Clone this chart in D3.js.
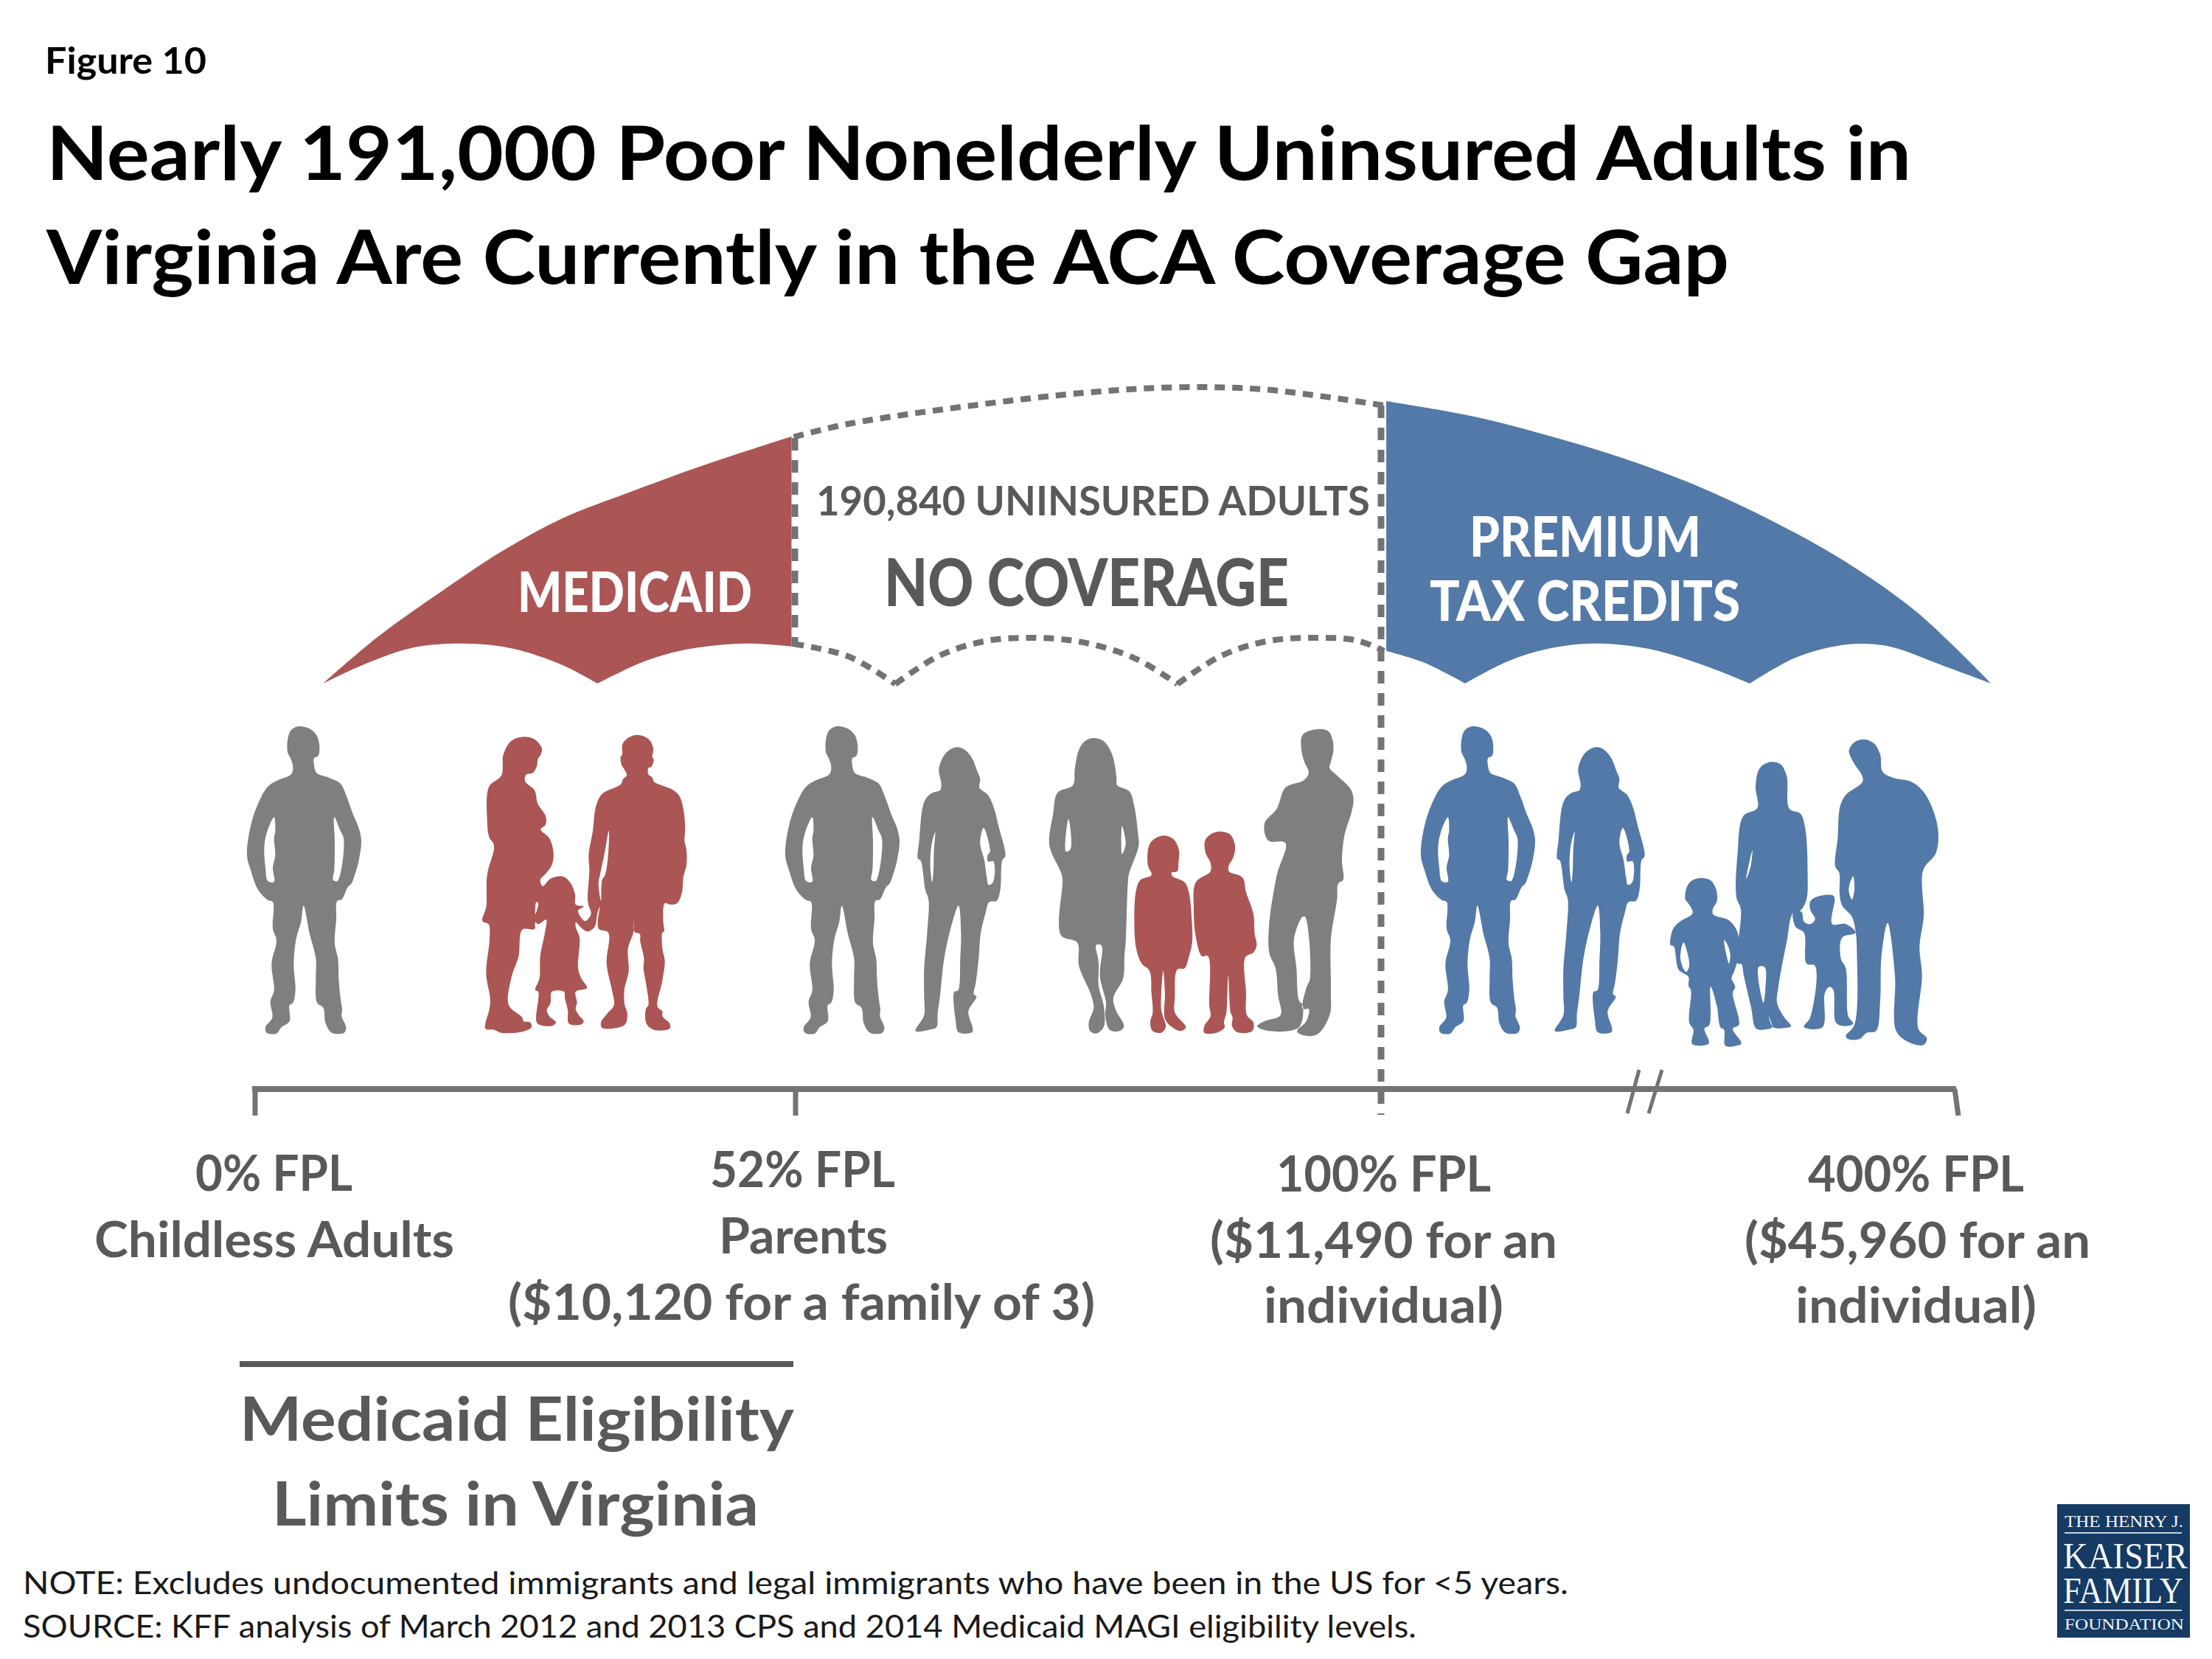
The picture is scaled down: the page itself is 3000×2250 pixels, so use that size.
<!DOCTYPE html>
<html>
<head>
<meta charset="utf-8">
<style>
  body { margin: 0; background: #fff; }
  text { font-family: Lato, "Open Sans", sans-serif; }
</style>
<script src="https://d3js.org/d3.v7.min.js"></script>
</head>
<body>
<div id="chart"></div>
<script>
var RED = "#ab5654", BLUE = "#5279a8", GRAY = "#7f7f7f", LINE = "#737373", TEXT = "#595959";

var svg = d3.select("#chart").append("svg")
  .attr("width", 3000)
  .attr("height", 2250)
  .attr("viewBox", "0 0 3000 2250");

var ux = d3.scaleLinear().domain([0, 1568]).range([400, 2800]);
var uy = d3.scaleLinear().domain([0, 1380]).range([500, 960]);
var ulineSmooth = d3.line().x(d => ux(d[0])).y(d => uy(d[1])).curve(d3.curveCatmullRom.alpha(0.5));

function joinSegs(segs) {
  return segs.map((s, i) => {
    var p = ulineSmooth(s);
    return i == 0 ? p : p.replace(/^M/, "L");
  }).join("");
}

var umbrella = {
  redTop: [[25,1281],[74,1089],[129,909],[183,744],[237,609],[294,507],[364,390],[440,276]],
  redBottom: [
    [[440,1130],[400,1118],[350,1140],[310,1190],[268,1281]],
    [[268,1281],[237,1206],[194,1140],[155,1119],[106,1134],[63,1200],[25,1281]]
  ],
  blueTop: [[967,132],[1045,195],[1111,273],[1176,363],[1241,474],[1307,615],[1372,780],[1437,990],[1503,1281]],
  blueBottom: [
    [[1503,1281],[1459,1206],[1416,1134],[1390,1119],[1363,1131],[1328,1179],[1289,1281]],
    [[1289,1281],[1250,1210],[1200,1140],[1150,1118],[1110,1140],[1075,1190],[1037,1281]],
    [[1037,1281],[1000,1195],[967,1148]]
  ],
  dashTop: [[442,278],[490,225],[600,150],[700,98],[780,76],[860,85],[965,150]],
  dashBottom: [
    [[442,1120],[490,1170],[532,1283]],
    [[532,1283],[570,1170],[610,1110],[655,1095],[700,1115],[745,1180],[782,1283]],
    [[782,1283],[820,1170],[860,1110],[900,1095],[940,1105],[965,1148]]
  ]
};

svg.append("path")
  .attr("d", joinSegs([umbrella.redTop].concat(umbrella.redBottom)) + "Z")
  .attr("fill", RED);
svg.append("path")
  .attr("d", joinSegs([umbrella.blueTop].concat(umbrella.blueBottom)) + "Z")
  .attr("fill", BLUE);

[umbrella.dashTop].concat(umbrella.dashBottom).forEach(function(seg) {
  svg.append("path")
    .attr("d", ulineSmooth(seg))
    .attr("fill", "none")
    .attr("stroke", LINE)
    .attr("stroke-width", 8)
    .attr("stroke-dasharray", "14 10");
});

// Silhouettes: each one is traced in its own crop at 3x, first list is the body, the rest are gaps
var shapes = {
  man: {ox: 320, oy: 980, parts: [
    [[255,15],[300,25],[330,55],[340,100],[335,135],[318,145],[318,175],[328,205],[380,225],[425,248],[450,300],[475,370],[500,430],[510,480],[500,560],[480,630],[470,655],[455,670],[430,720],[412,725],[408,800],[402,900],[415,960],[418,1040],[425,1120],[432,1170],[430,1195],[448,1240],[440,1262],[390,1262],[365,1225],[355,1160],[330,1140],[325,1040],[325,960],[300,860],[275,745],[265,810],[245,880],[235,980],[242,1090],[232,1140],[218,1150],[218,1215],[185,1240],[165,1265],[125,1262],[120,1240],[148,1200],[140,1135],[155,1090],[145,980],[165,885],[150,840],[150,730],[130,722],[90,680],[60,600],[45,540],[60,420],[90,330],[130,260],[170,235],[225,210],[232,180],[222,145],[210,120],[212,60],[225,30]],
    [[155,385],[125,450],[115,510],[120,590],[130,645],[155,648],[150,590],[160,540],[155,470],[160,440]],
    [[400,385],[402,480],[400,600],[395,640],[412,645],[430,590],[438,470],[425,440]]
  ]},
  woman: {ox: 1240, oy: 1000, parts: [
    [[175,40],[205,50],[235,85],[255,135],[268,170],[265,205],[300,235],[325,290],[345,370],[368,455],[370,485],[358,500],[350,620],[335,665],[305,670],[290,715],[270,800],[262,900],[250,1000],[242,1045],[253,1055],[220,1115],[238,1185],[235,1200],[180,1200],[168,1150],[163,1035],[178,1030],[187,900],[190,790],[180,685],[150,770],[125,880],[115,950],[105,1050],[95,1125],[90,1180],[60,1190],[5,1195],[40,1130],[40,1055],[40,940],[52,800],[58,660],[45,620],[25,500],[15,495],[20,420],[35,280],[50,245],[75,225],[105,215],[110,190],[100,130],[120,75],[145,50]],
    [[85,385],[70,440],[65,520],[73,590],[78,540],[80,460]],
    [[282,368],[268,430],[285,500],[295,570],[302,600],[320,590],[322,505],[300,505],[298,480],[308,465]]
  ]},
  couple: {ox: 650, oy: 980, parts: [
    [[180,58],[225,68],[255,105],[250,130],[238,150],[235,175],[218,205],[190,212],[187,240],[225,275],[238,330],[270,380],[270,415],[250,435],[285,470],[302,530],[295,580],[270,615],[248,640],[258,665],[290,635],[340,626],[370,650],[390,700],[392,740],[425,748],[402,765],[430,808],[450,790],[455,775],[442,730],[448,600],[445,540],[462,440],[475,340],[500,290],[575,252],[585,230],[600,215],[590,190],[580,175],[575,140],[582,130],[582,90],[605,62],[645,50],[690,68],[708,105],[704,140],[710,150],[700,180],[688,185],[688,210],[705,225],[710,240],[790,275],[815,300],[830,350],[838,430],[835,480],[843,520],[843,580],[830,630],[825,690],[805,735],[775,740],[755,735],[748,800],[752,850],[745,855],[745,920],[755,970],[745,1050],[725,1155],[745,1175],[745,1195],[775,1225],[775,1245],[710,1250],[680,1225],[678,1165],[688,1150],[680,1070],[668,1000],[670,960],[655,890],[653,860],[632,852],[627,800],[628,850],[605,920],[608,1010],[590,1090],[592,1150],[602,1180],[596,1225],[570,1240],[500,1242],[495,1220],[520,1185],[548,1150],[540,1090],[518,980],[525,855],[485,838],[490,750],[480,780],[470,830],[440,850],[415,835],[393,812],[392,830],[408,875],[402,1000],[415,1040],[438,1080],[392,1095],[398,1140],[392,1165],[405,1190],[425,1215],[415,1228],[365,1225],[360,1170],[348,1120],[345,1095],[295,1095],[290,1140],[275,1170],[285,1195],[312,1220],[300,1232],[270,1235],[235,1222],[240,1095],[228,1088],[245,1040],[248,950],[268,850],[272,802],[240,820],[228,812],[225,840],[175,842],[160,950],[130,1040],[120,1150],[175,1200],[180,1215],[208,1220],[212,1240],[175,1258],[90,1262],[60,1250],[25,1245],[40,1170],[45,1130],[28,1020],[42,880],[38,820],[13,808],[28,750],[32,620],[60,500],[40,465],[32,400],[40,260],[90,215],[98,130],[130,75]],
    [[527,440],[510,530],[490,625],[485,650],[495,725],[500,640],[512,620],[525,530]],
    [[232,730],[228,780],[240,735]]
  ]},
  dressWoman: {ox: 1415, oy: 980, parts: [
    [[205,63],[245,75],[280,130],[298,225],[300,255],[350,280],[370,340],[385,450],[388,500],[350,610],[345,640],[335,895],[330,950],[325,1040],[285,1120],[295,1170],[328,1235],[310,1255],[270,1250],[252,1190],[255,1140],[230,1030],[240,925],[235,905],[215,905],[225,975],[225,1070],[247,1160],[245,1240],[215,1265],[190,1255],[185,1220],[205,1160],[195,1110],[145,990],[138,895],[72,865],[78,640],[72,610],[25,500],[40,370],[58,285],[120,255],[128,190],[145,110],[170,75]],
    [[102,392],[92,525],[110,515],[112,450]],
    [[320,420],[320,535],[335,495]]
  ]},
  girl: {ox: 1415, oy: 980, parts: [
    [[490,460],[530,475],[552,520],[550,570],[545,605],[522,610],[525,625],[575,650],[592,690],[605,820],[605,900],[590,960],[575,1000],[545,1005],[535,1120],[535,1180],[580,1240],[560,1255],[525,1240],[495,1205],[495,1100],[488,1010],[480,1100],[480,1170],[498,1240],[480,1262],[445,1255],[435,1220],[445,1180],[440,1100],[432,1010],[400,980],[378,920],[370,800],[378,680],[395,640],[440,620],[425,580],[430,500],[450,475]]
  ]},
  boy: {ox: 1415, oy: 980, parts: [
    [[715,443],[760,455],[778,490],[780,520],[770,555],[755,580],[755,605],[810,630],[825,690],[855,780],[860,860],[868,905],[855,935],[822,955],[825,1100],[828,1190],[855,1220],[850,1255],[790,1260],[768,1235],[770,1200],[762,1180],[752,1030],[745,1180],[735,1220],[738,1240],[705,1262],[655,1262],[655,1235],[680,1195],[675,1150],[670,950],[645,950],[620,870],[612,760],[620,650],[680,605],[680,570],[660,530],[658,480],[680,455]]
  ]},
  armsCrossed: {ox: 1415, oy: 980, parts: [
    [[1115,27],[1160,35],[1178,75],[1180,115],[1170,160],[1165,185],[1195,215],[1250,270],[1262,310],[1255,360],[1225,460],[1215,560],[1220,640],[1200,655],[1195,720],[1170,880],[1170,1090],[1165,1190],[1112,1270],[1050,1270],[1032,1255],[1070,1215],[1080,1165],[1055,1165],[1070,1080],[1085,1040],[1065,790],[1055,790],[1020,880],[1030,1000],[1040,1130],[1055,1150],[1040,1240],[920,1255],[870,1235],[900,1215],[965,1190],[955,1110],[945,1000],[920,940],[918,830],[950,620],[985,490],[915,480],[900,410],[950,350],[985,265],[1060,235],[1080,205],[1062,160],[1050,110],[1055,50]]
  ]},
  son: {ox: 2255, oy: 990, parts: [
    [[155,602],[195,612],[218,650],[220,700],[205,725],[205,750],[270,775],[305,825],[308,920],[290,985],[280,1010],[295,1045],[285,1070],[310,1200],[285,1215],[320,1275],[300,1285],[255,1285],[250,1220],[235,1210],[220,1120],[195,1045],[190,1200],[170,1215],[188,1275],[120,1278],[125,1220],[108,1190],[115,1060],[105,1040],[105,1005],[65,975],[45,880],[32,875],[42,810],[70,780],[122,745],[100,700],[92,690],[98,640],[120,612]],
    [[85,865],[72,930],[95,985],[108,960],[100,905]],
    [[250,855],[270,950],[275,915],[262,870]]
  ]},
  mom: {ox: 2255, oy: 990, parts: [
    [[440,130],[480,140],[505,190],[515,320],[560,340],[580,400],[590,600],[585,690],[560,735],[530,745],[505,860],[485,960],[470,1050],[465,1110],[495,1170],[522,1205],[500,1212],[450,1210],[430,1160],[445,1210],[420,1218],[380,1215],[360,1130],[330,1000],[320,952],[305,950],[318,730],[300,680],[305,500],[328,350],[385,318],[378,230],[395,155]],
    [[390,965],[410,1110],[418,1050],[415,965]],
    [[365,490],[352,540],[340,605],[358,555]]
  ]},
  toddler: {ox: 2255, oy: 990, parts: [
    [[640,675],[695,675],[700,700],[695,720],[690,790],[745,790],[785,825],[730,845],[725,930],[745,970],[755,1165],[775,1195],[740,1205],[705,1190],[695,1060],[680,1045],[660,1070],[650,1210],[575,1208],[600,1170],[620,960],[585,950],[575,825],[540,800],[532,740],[565,740],[575,780],[600,790],[620,770],[600,730],[602,695]]
  ]},
  bigMan: {ox: 2255, oy: 990, parts: [
    [[820,38],[860,55],[885,100],[895,170],[940,195],[1010,210],[1060,250],[1105,340],[1122,430],[1110,505],[1060,570],[1062,760],[1045,880],[1055,1000],[1040,1215],[1075,1255],[1060,1282],[1000,1270],[950,1225],[945,1000],[915,785],[890,920],[885,1100],[868,1225],[830,1232],[800,1258],[755,1258],[745,1245],[780,1200],[790,900],[785,820],[770,760],[730,715],[720,670],[718,580],[702,555],[712,440],[722,310],[745,265],[815,205],[775,130],[758,85],[780,50]],
    [[775,595],[757,650],[770,690],[780,650]]
  ]}
};

var people = [
  {shape: "man", dx: 0, color: GRAY},
  {shape: "couple", dx: 0, color: RED},
  {shape: "man", dx: 730, color: GRAY},
  {shape: "woman", dx: 0, color: GRAY},
  {shape: "dressWoman", dx: 0, color: GRAY},
  {shape: "girl", dx: 0, color: RED},
  {shape: "boy", dx: 0, color: RED},
  {shape: "armsCrossed", dx: 0, color: GRAY},
  {shape: "man", dx: 1592, color: BLUE},
  {shape: "woman", dx: 867, color: BLUE},
  {shape: "son", dx: 0, color: BLUE},
  {shape: "mom", dx: 0, color: BLUE},
  {shape: "toddler", dx: 0, color: BLUE},
  {shape: "bigMan", dx: 0, color: BLUE}
];

people.forEach(function(p) {
  var s = shapes[p.shape];
  var fx = d3.scaleLinear().domain([0, 3]).range([s.ox + p.dx, s.ox + p.dx + 1]);
  var fy = d3.scaleLinear().domain([0, 3]).range([s.oy, s.oy + 1]);
  var outline = d3.line()
    .x(d => fx(d[0]))
    .y(d => fy(d[1]))
    .curve(d3.curveCatmullRomClosed.alpha(0.5));
  svg.append("path")
    .attr("d", s.parts.map(outline).join(""))
    .attr("fill", p.color)
    .attr("fill-rule", "evenodd");
});

// Vertical dashed dividers
[{x: 1078, y1: 594, y2: 877}, {x: 1873, y1: 550, y2: 1512}].forEach(function(d) {
  svg.append("line")
    .attr("x1", d.x).attr("x2", d.x)
    .attr("y1", d.y1).attr("y2", d.y2)
    .attr("stroke", LINE)
    .attr("stroke-width", 9)
    .attr("stroke-dasharray", "17 13");
});

// FPL axis, the position of each tick is a page position because the axis is broken
var axisX = d3.scaleLinear().domain([0, 3000]).range([0, 3000]);
svg.append("line")
  .attr("x1", axisX(342)).attr("x2", axisX(2653))
  .attr("y1", 1477).attr("y2", 1477)
  .attr("stroke", LINE).attr("stroke-width", 8);
[[346, 346], [1079, 1079], [2651, 2656]].forEach(function(t) {
  svg.append("line")
    .attr("x1", axisX(t[0])).attr("x2", axisX(t[1]))
    .attr("y1", 1477).attr("y2", 1513)
    .attr("stroke", LINE).attr("stroke-width", 7);
});
[[2223, 2207], [2254, 2236]].forEach(function(t) {
  svg.append("line")
    .attr("x1", axisX(t[0])).attr("x2", axisX(t[1]))
    .attr("y1", 1451).attr("y2", 1510)
    .attr("stroke", LINE).attr("stroke-width", 5);
});

svg.append("line")
  .attr("x1", 325).attr("x2", 1076)
  .attr("y1", 1850).attr("y2", 1850)
  .attr("stroke", TEXT).attr("stroke-width", 8);

// Text: x1, x2 hold the measured width of each line
var labels = [
  {t: "Figure 10", x1: 61, x2: 280, y: 100, size: 50, w: 700, fill: "#000"},
  {t: "Nearly 191,000 Poor Nonelderly Uninsured Adults in", x1: 63, x2: 2592, y: 244, size: 102, w: 700, fill: "#000"},
  {t: "Virginia Are Currently in the ACA Coverage Gap", x1: 63, x2: 2345, y: 385, size: 102, w: 700, fill: "#000"},
  {t: "190,840 UNINSURED ADULTS", x1: 1107, x2: 1858, y: 699, size: 56, w: 700, fill: TEXT},
  {t: "NO COVERAGE", x1: 1199, x2: 1748, y: 822, size: 90, w: 900, fill: TEXT},
  {t: "MEDICAID", x1: 702, x2: 1020, y: 830, size: 76, w: 900, fill: "#fff"},
  {t: "PREMIUM", x1: 1993, x2: 2307, y: 755, size: 76, w: 900, fill: "#fff"},
  {t: "TAX CREDITS", x1: 1939, x2: 2360, y: 842, size: 76, w: 900, fill: "#fff"},
  {t: "0% FPL", x1: 265, x2: 478, y: 1615, size: 67, w: 700, fill: TEXT},
  {t: "Childless Adults", x1: 128, x2: 616, y: 1705, size: 67, w: 700, fill: TEXT},
  {t: "52% FPL", x1: 963, x2: 1214, y: 1610, size: 67, w: 700, fill: TEXT},
  {t: "Parents", x1: 975, x2: 1204, y: 1700, size: 67, w: 700, fill: TEXT},
  {t: "($10,120 for a family of 3)", x1: 689, x2: 1485, y: 1790, size: 67, w: 700, fill: TEXT},
  {t: "100% FPL", x1: 1731, x2: 2022, y: 1616, size: 67, w: 700, fill: TEXT},
  {t: "($11,490 for an", x1: 1641, x2: 2112, y: 1706, size: 67, w: 700, fill: TEXT},
  {t: "individual)", x1: 1714, x2: 2039, y: 1794, size: 67, w: 700, fill: TEXT},
  {t: "400% FPL", x1: 2452, x2: 2745, y: 1616, size: 67, w: 700, fill: TEXT},
  {t: "($45,960 for an", x1: 2366, x2: 2835, y: 1706, size: 67, w: 700, fill: TEXT},
  {t: "individual)", x1: 2435, x2: 2762, y: 1794, size: 67, w: 700, fill: TEXT},
  {t: "Medicaid Eligibility", x1: 325, x2: 1077, y: 1954, size: 83, w: 700, fill: TEXT},
  {t: "Limits in Virginia", x1: 369, x2: 1029, y: 2069, size: 83, w: 700, fill: TEXT},
  {t: "NOTE: Excludes undocumented immigrants and legal immigrants who have been in the US for <5 years.", x1: 31, x2: 2127, y: 2162, size: 42, w: 400, fill: "#1a1a1a"},
  {t: "SOURCE: KFF analysis of March 2012 and 2013 CPS and 2014 Medicaid MAGI eligibility levels.", x1: 31, x2: 1921, y: 2221, size: 42, w: 400, fill: "#1a1a1a"}
];

svg.selectAll("text.label")
  .data(labels)
  .enter().append("text")
  .attr("class", "label")
  .attr("x", d => d.x1)
  .attr("y", d => d.y)
  .attr("font-size", d => d.size)
  .attr("font-weight", d => d.w)
  .attr("fill", d => d.fill)
  .attr("textLength", d => d.x2 - d.x1)
  .attr("lengthAdjust", "spacingAndGlyphs")
  .text(d => d.t);

// Logo
svg.append("rect")
  .attr("x", 2790).attr("y", 2040)
  .attr("width", 180).attr("height", 181)
  .attr("fill", "#153a63");
[
  {t: "THE HENRY J.", x1: 2800, x2: 2961, y: 2071, size: 23},
  {t: "KAISER", x1: 2798, x2: 2967, y: 2127, size: 50},
  {t: "FAMILY", x1: 2798, x2: 2961, y: 2174, size: 50},
  {t: "FOUNDATION", x1: 2800, x2: 2962, y: 2210, size: 22}
].forEach(function(d) {
  svg.append("text")
    .attr("x", d.x1).attr("y", d.y)
    .attr("font-size", d.size)
    .style("font-family", "'Liberation Serif', serif")
    .attr("fill", "#f2f5f9")
    .attr("textLength", d.x2 - d.x1)
    .attr("lengthAdjust", "spacingAndGlyphs")
    .text(d.t);
});
[2079, 2184].forEach(function(y) {
  svg.append("line")
    .attr("x1", 2800).attr("x2", 2959)
    .attr("y1", y).attr("y2", y)
    .attr("stroke", "#c4d0de").attr("stroke-width", 2);
});
</script>
</body>
</html>
